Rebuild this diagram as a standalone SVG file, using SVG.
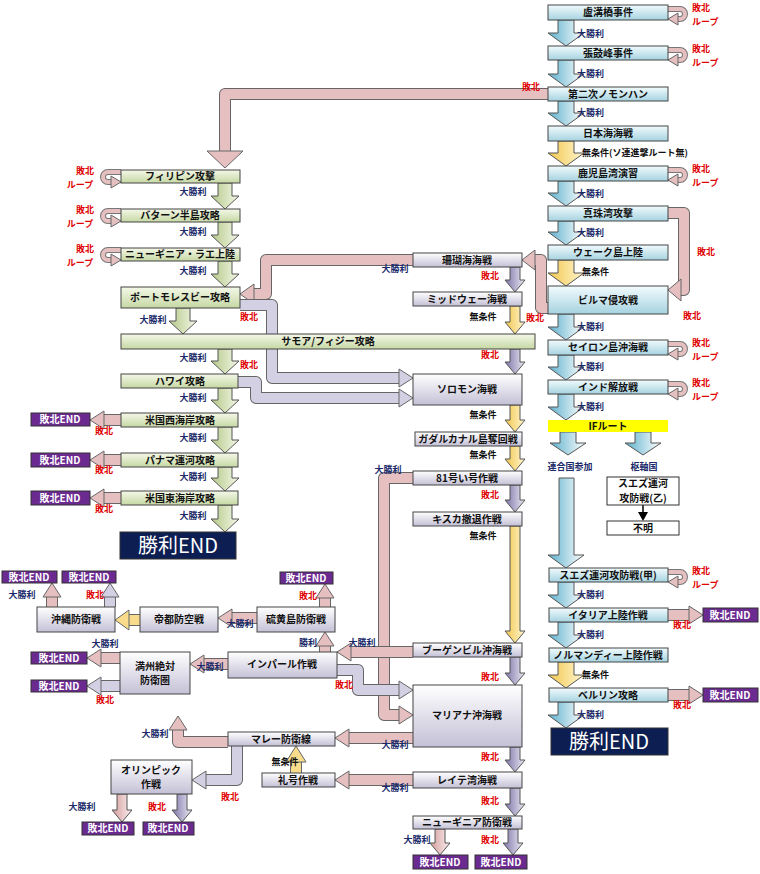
<svg xmlns="http://www.w3.org/2000/svg" width="760" height="874" viewBox="0 0 760 874">
<defs>
<linearGradient id="gBox" x1="0" y1="0" x2="0" y2="1"><stop offset="0" stop-color="#f2fbfd"/><stop offset="1" stop-color="#a6d3e0"/></linearGradient>
<linearGradient id="gGrn" x1="0" y1="0" x2="0" y2="1"><stop offset="0" stop-color="#f4f8e8"/><stop offset="1" stop-color="#c6d8a4"/></linearGradient>
<linearGradient id="gLav" x1="0" y1="0" x2="0" y2="1"><stop offset="0" stop-color="#ffffff"/><stop offset="1" stop-color="#c4c0d6"/></linearGradient>
<linearGradient id="aB" x1="0" y1="0" x2="1" y2="0"><stop offset="0" stop-color="#5cb0cc"/><stop offset="1" stop-color="#ffffff"/></linearGradient>
<linearGradient id="aG" x1="0" y1="0" x2="1" y2="0"><stop offset="0" stop-color="#b4c888"/><stop offset="1" stop-color="#f4f8e8"/></linearGradient>
<linearGradient id="aP" x1="0" y1="0" x2="1" y2="0"><stop offset="0" stop-color="#7c74a8"/><stop offset="1" stop-color="#eceaf4"/></linearGradient>
<linearGradient id="aY" x1="0" y1="0" x2="1" y2="0"><stop offset="0" stop-color="#f2c64c"/><stop offset="1" stop-color="#fff6d0"/></linearGradient>
<linearGradient id="aK" x1="0" y1="0" x2="1" y2="0"><stop offset="0" stop-color="#d49c9c"/><stop offset="1" stop-color="#faeeee"/></linearGradient>
</defs>
<style>
text{font-family:"Noto Sans CJK JP","Noto Sans",sans-serif;font-weight:bold;font-size:10px}
.bx{stroke:#444;stroke-width:1}
.b{fill:url(#gBox)}.g{fill:url(#gGrn)}.l{fill:url(#gLav)}
.c{text-anchor:middle;fill:#111}
.w{fill:#1a2a6a;font-size:9px}.r{fill:#e00000;font-size:9px}.k{fill:#111;font-size:9px}
.ab{fill:url(#aB);stroke:#555;stroke-width:1}
.ag{fill:url(#aG);stroke:#555;stroke-width:1}
.ap{fill:url(#aP);stroke:#555;stroke-width:1}
.ay{fill:url(#aY);stroke:#555;stroke-width:1}
.ak{fill:url(#aK);stroke:#555;stroke-width:1}
.po{fill:none;stroke:#666;stroke-width:12;stroke-linejoin:round}
.pk{fill:none;stroke:#e6c0c0;stroke-width:10;stroke-linejoin:round}
.pl{fill:none;stroke:#d4d0e4;stroke-width:10;stroke-linejoin:round}
.py{fill:none;stroke:#f8dc8c;stroke-width:10}
.hk{fill:#e6c0c0;stroke:#666;stroke-width:1}
.hl{fill:#d4d0e4;stroke:#666;stroke-width:1}
.hy{fill:#f8dc8c;stroke:#666;stroke-width:1}
.lo{fill:none;stroke:#777;stroke-width:6;stroke-linecap:butt}
.li{fill:none;stroke:#e6c0c0;stroke-width:4}
.end{fill:#6a2a90;stroke:#333}
.et{fill:#fff;text-anchor:middle;font-size:10px}
.win{fill:#0c1e52;stroke:#333}
.wt{fill:#fff;text-anchor:middle;font-size:20px;font-weight:normal}
</style>

<g id="connectors">
<path class="po" d="M548,94 H225 V152"/><path class="pk" d="M548,94 H225 V152"/><polygon class="hk" points="225,168 207,151 243,151"/>
<path class="po" d="M668,213 H684 V290 H679"/><path class="pk" d="M668,213 H684 V290 H679"/><polygon class="hk" points="668,290 681,279 681,301"/>
<path class="po" d="M548,308 H541 V260 H534"/><path class="pk" d="M548,308 H541 V260 H534"/><polygon class="hk" points="522,260 535,250 535,270"/>
<path class="po" d="M413,260 H266 V294 H253"/><path class="pk" d="M413,260 H266 V294 H253"/><polygon class="hk" points="240,294 254,284 254,304"/>
<path class="po" d="M240,305 H272 V378 H400"/><path class="pl" d="M240,305 H272 V378 H400"/><polygon class="hl" points="413,378 399,369 399,387"/>
<path class="po" d="M238,382 H256 V398 H400"/><path class="pl" d="M238,382 H256 V398 H400"/><polygon class="hl" points="413,398 399,389 399,407"/>
<path class="po" d="M413,478 H384 V715 H400"/><path class="pk" d="M413,478 H384 V715 H400"/><polygon class="hk" points="413,715 399,706 399,724"/>
<path class="po" d="M413,652 H350"/><path class="pk" d="M413,652 H350"/><polygon class="hk" points="337,652 351,643 351,661"/>
<path class="po" d="M337,670 H358 V690 H400"/><path class="pl" d="M337,670 H358 V690 H400"/><polygon class="hl" points="413,690 399,681 399,699"/>
<path class="po" d="M413,738 H348"/><path class="pk" d="M413,738 H348"/><polygon class="hk" points="335,738 349,729 349,747"/>
<path class="po" d="M413,780 H348"/><path class="pk" d="M413,780 H348"/><polygon class="hk" points="335,780 349,771 349,789"/>
<path class="po" d="M228,742 H178 V729"/><path class="pk" d="M228,742 H178 V729"/><polygon class="hk" points="178,716 169,730 187,730"/>
<path class="po" d="M237,746 V780 H205"/><path class="pl" d="M237,746 V780 H205"/><polygon class="hl" points="192,780 206,771 206,789"/>
<path class="po" d="M296,773 V762"/><path class="py" d="M296,773 V762"/><polygon class="hy" points="296,746 286,762 306,762"/>
<path class="po" d="M257,618 H231"/><path class="pk" d="M257,618 H231"/><polygon class="hk" points="218,618 232,609 232,627"/>
<path class="po" d="M140,620 H128"/><path class="py" d="M140,620 H128"/><polygon class="hy" points="115,620 129,610 129,630"/>
<path class="po" d="M230,664 H203"/><path class="pk" d="M230,664 H203"/><polygon class="hk" points="190,664 204,655 204,673"/>
<path class="po" d="M120,658 H100"/><path class="pk" d="M120,658 H100"/><polygon class="hk" points="87,658 101,649 101,667"/>
<path class="po" d="M120,686 H100"/><path class="pl" d="M120,686 H100"/><polygon class="hl" points="87,686 101,677 101,695"/>
<path class="po" d="M325,652 V645"/><path class="pk" d="M325,652 V645"/><polygon class="hk" points="325,632 316,646 334,646"/>
<path class="po" d="M325,607 V597"/><path class="pk" d="M325,607 V597"/><polygon class="hk" points="325,584 316,598 334,598"/>
<path class="po" d="M52,607 V596"/><path class="pk" d="M52,607 V596"/><polygon class="hk" points="52,583 43,597 61,597"/>
<path class="po" d="M110,607 V596"/><path class="pl" d="M110,607 V596"/><polygon class="hl" points="110,583 101,597 119,597"/>
<path class="po" d="M121,420 H103"/><path class="pk" d="M121,420 H103"/><polygon class="hk" points="90,420 104,411 104,429"/>
<path class="po" d="M121,460 H103"/><path class="pk" d="M121,460 H103"/><polygon class="hk" points="90,460 104,451 104,469"/>
<path class="po" d="M121,498 H103"/><path class="pk" d="M121,498 H103"/><polygon class="hk" points="90,498 104,489 104,507"/>
<path class="po" d="M668,615 H690"/><path class="pk" d="M668,615 H690"/><polygon class="hk" points="703,615 689,606 689,624"/>
<path class="po" d="M668,695 H690"/><path class="pk" d="M668,695 H690"/><polygon class="hk" points="703,695 689,686 689,704"/>
<polygon class="ab" points="558,20 574,20 574,33 584,33 566,46 548,33 558,33"/>
<polygon class="ab" points="558,60 574,60 574,74 584,74 566,87 548,74 558,74"/>
<polygon class="ab" points="558,101 574,101 574,113 584,113 566,126 548,113 558,113"/>
<polygon class="ay" points="558,141 574,141 574,153 584,153 566,166 548,153 558,153"/>
<polygon class="ab" points="558,181 574,181 574,193 584,193 566,206 548,193 558,193"/>
<polygon class="ab" points="558,221 574,221 574,232 584,232 566,245 548,232 558,232"/>
<polygon class="ay" points="558,260 574,260 574,273 584,273 566,286 548,273 558,273"/>
<polygon class="ab" points="558,314 574,314 574,327 584,327 566,340 548,327 558,327"/>
<polygon class="ab" points="558,355 574,355 574,367 584,367 566,380 548,367 558,367"/>
<polygon class="ab" points="558,394 574,394 574,407 584,407 566,420 548,407 558,407"/>
<polygon class="ab" points="560,432 576,432 576,443 586,443 568,455 550,443 560,443"/>
<polygon class="ab" points="635,432 651,432 651,443 661,443 643,455 625,443 635,443"/>
<path class="ab" d="M559,478 H574 V555 H584 L566,568 L548,555 H559 Z"/>
<polygon class="ab" points="558,582 574,582 574,595 584,595 566,608 548,595 558,595"/>
<polygon class="ab" points="558,622 574,622 574,635 584,635 566,648 548,635 558,635"/>
<polygon class="ay" points="558,662 574,662 574,675 584,675 566,688 548,675 558,675"/>
<polygon class="ab" points="558,702 574,702 574,715 584,715 566,728 548,715 558,715"/>
<path d="M643,505 V513" stroke="#000" stroke-width="1.5"/><polygon points="643,521 638,512 648,512" fill="#000"/>
<polygon class="ag" points="218,183 232,183 232,196 239,196 225,209 211,196 218,196"/>
<polygon class="ag" points="218,222 232,222 232,235 239,235 225,248 211,235 218,235"/>
<polygon class="ag" points="218,261 232,261 232,274 239,274 225,287 211,274 218,274"/>
<polygon class="ag" points="176,308 190,308 190,321 197,321 183,334 169,321 176,321"/>
<polygon class="ag" points="218,349 232,349 232,361 239,361 225,374 211,361 218,361"/>
<polygon class="ag" points="218,388 232,388 232,400 239,400 225,413 211,400 218,400"/>
<polygon class="ag" points="218,427 232,427 232,440 239,440 225,453 211,440 218,440"/>
<polygon class="ag" points="218,467 232,467 232,478 239,478 225,491 211,478 218,478"/>
<polygon class="ag" points="218,505 232,505 232,519 239,519 225,532 211,519 218,519"/>
<polygon class="ap" points="510,267 520,267 520,280 525,280 515,292 505,280 510,280"/>
<polygon class="ay" points="510,306 520,306 520,322 525,322 515,334 505,322 510,322"/>
<polygon class="ap" points="510,349 520,349 520,362 525,362 515,374 505,362 510,362"/>
<polygon class="ay" points="510,405 520,405 520,420 525,420 515,432 505,420 510,420"/>
<polygon class="ay" points="510,446 520,446 520,459 525,459 515,471 505,459 510,459"/>
<polygon class="ap" points="510,485 520,485 520,500 525,500 515,512 505,500 510,500"/>
<polygon class="ay" points="510,526 520,526 520,631 525,631 515,643 505,631 510,631"/>
<polygon class="ap" points="510,657 520,657 520,673 525,673 515,685 505,673 510,673"/>
<polygon class="ap" points="510,747 520,747 520,760 525,760 515,772 505,760 510,760"/>
<polygon class="ap" points="510,788 520,788 520,804 525,804 515,816 505,804 510,804"/>
<polygon class="ak" points="435,829 445,829 445,843 450,843 440,855 430,843 435,843"/>
<polygon class="ap" points="508,829 518,829 518,843 523,843 513,855 503,843 508,843"/>
<polygon class="ak" points="117,794 127,794 127,810 132,810 122,822 112,810 117,810"/>
<polygon class="ap" points="177,794 187,794 187,810 192,810 182,822 172,810 177,810"/>
<g>
<path class="lo" d="M668,9 H680 a5,5 0 0 1 0,10 H677"/><path class="li" d="M668,9 H680 a5,5 0 0 1 0,10 H677"/><polygon class="hk" points="668,19 678,13 678,25"/>
<path class="lo" d="M668,50 H680 a5,5 0 0 1 0,10 H677"/><path class="li" d="M668,50 H680 a5,5 0 0 1 0,10 H677"/><polygon class="hk" points="668,60 678,54 678,66"/>
<path class="lo" d="M668,170 H680 a5,5 0 0 1 0,10 H677"/><path class="li" d="M668,170 H680 a5,5 0 0 1 0,10 H677"/><polygon class="hk" points="668,180 678,174 678,186"/>
<path class="lo" d="M668,344 H680 a5,5 0 0 1 0,10 H677"/><path class="li" d="M668,344 H680 a5,5 0 0 1 0,10 H677"/><polygon class="hk" points="668,354 678,348 678,360"/>
<path class="lo" d="M668,384 H680 a5,5 0 0 1 0,10 H677"/><path class="li" d="M668,384 H680 a5,5 0 0 1 0,10 H677"/><polygon class="hk" points="668,394 678,388 678,400"/>
<path class="lo" d="M668,572 H680 a5,5 0 0 1 0,10 H677"/><path class="li" d="M668,572 H680 a5,5 0 0 1 0,10 H677"/><polygon class="hk" points="668,582 678,576 678,588"/>
<path class="lo" d="M121,172 H108 a5,5 0 0 0 0,10 H112"/><path class="li" d="M121,172 H108 a5,5 0 0 0 0,10 H112"/><polygon class="hk" points="121,182 111,176 111,188"/>
<path class="lo" d="M121,211 H108 a5,5 0 0 0 0,10 H112"/><path class="li" d="M121,211 H108 a5,5 0 0 0 0,10 H112"/><polygon class="hk" points="121,221 111,215 111,227"/>
<path class="lo" d="M121,250 H108 a5,5 0 0 0 0,10 H112"/><path class="li" d="M121,250 H108 a5,5 0 0 0 0,10 H112"/><polygon class="hk" points="121,260 111,254 111,266"/>
</g>
</g>

<g id="labels">
<text class="w" x="577" y="37">大勝利</text><text class="w" x="577" y="77">大勝利</text><text class="w" x="577" y="116">大勝利</text>
<text class="k" x="582" y="156">無条件(ソ連進撃ルート無)</text>
<text class="w" x="577" y="197">大勝利</text><text class="w" x="577" y="236">大勝利</text>
<text class="k" x="582" y="275">無条件</text>
<text class="w" x="577" y="330">大勝利</text><text class="w" x="577" y="370">大勝利</text><text class="w" x="577" y="410">大勝利</text>
<text class="w" x="577" y="598">大勝利</text><text class="w" x="577" y="638">大勝利</text>
<text class="k" x="582" y="678">無条件</text><text class="w" x="577" y="718">大勝利</text>
<text class="w" x="570" y="470" text-anchor="middle">連合国参加</text><text class="w" x="644" y="470" text-anchor="middle">枢軸国</text>
<text class="r" x="692" y="11">敗北</text><text class="r" x="692" y="25">ループ</text>
<text class="r" x="692" y="52">敗北</text><text class="r" x="692" y="66">ループ</text>
<text class="r" x="692" y="172">敗北</text><text class="r" x="692" y="186">ループ</text>
<text class="r" x="692" y="346">敗北</text><text class="r" x="692" y="360">ループ</text>
<text class="r" x="692" y="386">敗北</text><text class="r" x="692" y="400">ループ</text>
<text class="r" x="692" y="574">敗北</text><text class="r" x="692" y="588">ループ</text>
<text class="r" x="522" y="90">敗北</text><text class="r" x="697" y="255">敗北</text>
<text class="r" x="526" y="321">敗北</text><text class="r" x="683" y="319">敗北</text>
<text class="r" x="673" y="628">敗北</text><text class="r" x="673" y="708">敗北</text>
<text class="r" x="85" y="174" text-anchor="middle">敗北</text><text class="r" x="80" y="188" text-anchor="middle">ループ</text>
<text class="r" x="85" y="213" text-anchor="middle">敗北</text><text class="r" x="80" y="227" text-anchor="middle">ループ</text>
<text class="r" x="85" y="252" text-anchor="middle">敗北</text><text class="r" x="80" y="266" text-anchor="middle">ループ</text>
<text class="w" x="193" y="195" text-anchor="middle">大勝利</text><text class="w" x="193" y="235" text-anchor="middle">大勝利</text><text class="w" x="193" y="274" text-anchor="middle">大勝利</text>
<text class="w" x="153" y="323" text-anchor="middle">大勝利</text><text class="w" x="193" y="361" text-anchor="middle">大勝利</text>
<text class="w" x="193" y="401" text-anchor="middle">大勝利</text><text class="w" x="193" y="441" text-anchor="middle">大勝利</text>
<text class="w" x="193" y="480" text-anchor="middle">大勝利</text><text class="w" x="193" y="519" text-anchor="middle">大勝利</text>
<text class="r" x="104" y="434" text-anchor="middle">敗北</text><text class="r" x="104" y="473" text-anchor="middle">敗北</text><text class="r" x="104" y="512" text-anchor="middle">敗北</text>
<text class="r" x="240" y="320">敗北</text><text class="r" x="240" y="368">敗北</text>
<text class="w" x="395" y="272" text-anchor="middle">大勝利</text>
<text class="r" x="490" y="279" text-anchor="middle">敗北</text><text class="k" x="483" y="320" text-anchor="middle">無条件</text>
<text class="r" x="490" y="358" text-anchor="middle">敗北</text><text class="k" x="483" y="418" text-anchor="middle">無条件</text>
<text class="k" x="483" y="458" text-anchor="middle">無条件</text><text class="r" x="490" y="498" text-anchor="middle">敗北</text>
<text class="k" x="483" y="539" text-anchor="middle">無条件</text><text class="w" x="388" y="473" text-anchor="middle">大勝利</text>
<text class="r" x="490" y="680" text-anchor="middle">敗北</text><text class="r" x="490" y="760" text-anchor="middle">敗北</text>
<text class="r" x="490" y="804" text-anchor="middle">敗北</text>
<text class="w" x="417" y="843" text-anchor="middle">大勝利</text><text class="r" x="490" y="843" text-anchor="middle">敗北</text>
<text class="w" x="362" y="646" text-anchor="middle">大勝利</text><text class="w" x="308" y="646" text-anchor="middle">勝利</text>
<text class="r" x="344" y="688" text-anchor="middle">敗北</text>
<text class="r" x="308" y="599" text-anchor="middle">敗北</text><text class="w" x="240" y="627" text-anchor="middle">大勝利</text>
<text class="w" x="22" y="598" text-anchor="middle">大勝利</text><text class="r" x="95" y="598" text-anchor="middle">敗北</text>
<text class="w" x="210" y="670" text-anchor="middle">大勝利</text>
<text class="w" x="105" y="647" text-anchor="middle">大勝利</text><text class="r" x="105" y="703" text-anchor="middle">敗北</text>
<text class="w" x="395" y="748" text-anchor="middle">大勝利</text><text class="w" x="395" y="791" text-anchor="middle">大勝利</text>
<text class="w" x="155" y="737" text-anchor="middle">大勝利</text><text class="r" x="230" y="800" text-anchor="middle">敗北</text>
<text class="k" x="285" y="765" text-anchor="middle">無条件</text>
<text class="w" x="82" y="810" text-anchor="middle">大勝利</text><text class="r" x="157" y="810" text-anchor="middle">敗北</text>
</g>

<g id="n_rokoukyo"><rect class="bx b" x="548" y="5" width="120" height="15"/><text class="c" x="608" y="16">盧溝橋事件</text></g>
<g id="n_choukohou"><rect class="bx b" x="548" y="46" width="120" height="14"/><text class="c" x="608" y="57">張鼓峰事件</text></g>
<g id="n_nomonhan"><rect class="bx b" x="548" y="87" width="120" height="14"/><text class="c" x="608" y="98">第二次ノモンハン</text></g>
<g id="n_nihonkai"><rect class="bx b" x="548" y="126" width="120" height="15"/><text class="c" x="608" y="137">日本海海戦</text></g>
<g id="n_kagoshima"><rect class="bx b" x="548" y="166" width="120" height="15"/><text class="c" x="608" y="177">鹿児島湾演習</text></g>
<g id="n_shinjuwan"><rect class="bx b" x="548" y="206" width="120" height="15"/><text class="c" x="608" y="217">真珠湾攻撃</text></g>
<g id="n_wake"><rect class="bx b" x="548" y="245" width="120" height="15"/><text class="c" x="608" y="256">ウェーク島上陸</text></g>
<g id="n_burma"><rect class="bx b" x="548" y="286" width="120" height="28"/><text class="c" x="608" y="304">ビルマ侵攻戦</text></g>
<g id="n_ceylon"><rect class="bx b" x="548" y="340" width="120" height="15"/><text class="c" x="608" y="351">セイロン島沖海戦</text></g>
<g id="n_india"><rect class="bx b" x="548" y="380" width="120" height="14"/><text class="c" x="608" y="391">インド解放戦</text></g>
<g id="n_if"><rect x="548" y="420" width="120" height="12" fill="#ffff00"/><text class="c" x="608" y="430">IFルート</text></g>
<g id="n_suez_b"><rect x="607" y="477" width="72" height="28" fill="#fff" stroke="#333"/><text class="c" x="643" y="487" font-size="8.5">スエズ運河</text><text class="c" x="643" y="502" font-size="8.5">攻防戦(乙)</text></g>
<g id="n_fumei"><rect x="607" y="521" width="72" height="14" fill="#fff" stroke="#333"/><text class="c" x="643" y="532">不明</text></g>
<g id="n_suez_a"><rect class="bx b" x="549" y="568" width="119" height="14"/><text class="c" x="608" y="579">スエズ運河攻防戦(甲)</text></g>
<g id="n_italy"><rect class="bx b" x="549" y="608" width="119" height="14"/><text class="c" x="608" y="619">イタリア上陸作戦</text></g>
<g id="n_italy_end"><rect class="end" x="703" y="608" width="55" height="14"/><text class="et" x="730" y="619">敗北END</text></g>
<g id="n_normandy"><rect class="bx b" x="549" y="648" width="119" height="14"/><text class="c" x="608" y="659">ノルマンディー上陸作戦</text></g>
<g id="n_berlin"><rect class="bx b" x="549" y="688" width="119" height="14"/><text class="c" x="608" y="699">ベルリン攻略</text></g>
<g id="n_berlin_end"><rect class="end" x="703" y="688" width="55" height="14"/><text class="et" x="730" y="699">敗北END</text></g>
<g id="n_win_r"><rect class="win" x="551" y="728" width="117" height="27"/><text class="wt" x="609" y="749">勝利END</text></g>

<g id="n_philippines"><rect class="bx g" x="121" y="170" width="119" height="13"/><text class="c" x="180" y="180">フィリピン攻撃</text></g>
<g id="n_bataan"><rect class="bx g" x="121" y="209" width="119" height="13"/><text class="c" x="180" y="219">バターン半島攻略</text></g>
<g id="n_lae"><rect class="bx g" x="121" y="248" width="119" height="13"/><text class="c" x="180" y="258">ニューギニア・ラエ上陸</text></g>
<g id="n_moresby"><rect class="bx g" x="121" y="287" width="119" height="21"/><text class="c" x="180" y="301">ポートモレスビー攻略</text></g>
<g id="n_samoa"><rect class="bx g" x="121" y="334" width="414" height="15"/><text class="c" x="328" y="345">サモア/フィジー攻略</text></g>
<g id="n_hawaii"><rect class="bx g" x="121" y="374" width="117" height="14"/><text class="c" x="180" y="385">ハワイ攻略</text></g>
<g id="n_uswest"><rect class="bx g" x="121" y="413" width="117" height="14"/><text class="c" x="180" y="424">米国西海岸攻略</text></g>
<g id="n_uswest_end"><rect class="end" x="31" y="413" width="59" height="13"/><text class="et" x="60" y="423">敗北END</text></g>
<g id="n_panama"><rect class="bx g" x="121" y="453" width="117" height="14"/><text class="c" x="180" y="464">パナマ運河攻略</text></g>
<g id="n_panama_end"><rect class="end" x="31" y="453" width="59" height="14"/><text class="et" x="60" y="464">敗北END</text></g>
<g id="n_useast"><rect class="bx g" x="121" y="491" width="117" height="14"/><text class="c" x="180" y="502">米国東海岸攻略</text></g>
<g id="n_useast_end"><rect class="end" x="31" y="491" width="59" height="14"/><text class="et" x="60" y="502">敗北END</text></g>
<g id="n_win_l"><rect class="win" x="120" y="532" width="116" height="27"/><text class="wt" x="178" y="553">勝利END</text></g>

<g id="n_sango"><rect class="bx l" x="413" y="253" width="109" height="14"/><text class="c" x="467" y="264">珊瑚海海戦</text></g>
<g id="n_midway"><rect class="bx l" x="413" y="292" width="109" height="14"/><text class="c" x="467" y="303">ミッドウェー海戦</text></g>
<g id="n_solomon"><rect class="bx l" x="413" y="374" width="109" height="31"/><text class="c" x="467" y="393">ソロモン海戦</text></g>
<g id="n_guadal"><rect class="bx l" x="415" y="432" width="107" height="14"/><text class="c" x="468" y="443" font-size="9">ガダルカナル島奪回戦</text></g>
<g id="n_81"><rect class="bx l" x="413" y="471" width="109" height="14"/><text class="c" x="467" y="482">81号い号作戦</text></g>
<g id="n_kiska"><rect class="bx l" x="413" y="512" width="109" height="14"/><text class="c" x="467" y="523">キスカ撤退作戦</text></g>
<g id="n_bougain"><rect class="bx l" x="413" y="643" width="109" height="14"/><text class="c" x="467" y="654">ブーゲンビル沖海戦</text></g>
<g id="n_mariana"><rect class="bx l" x="413" y="685" width="109" height="62"/><text class="c" x="467" y="719">マリアナ沖海戦</text></g>
<g id="n_leyte"><rect class="bx l" x="413" y="772" width="109" height="16"/><text class="c" x="467" y="784">レイテ湾海戦</text></g>
<g id="n_ngdef"><rect class="bx l" x="413" y="816" width="109" height="13"/><text class="c" x="467" y="826">ニューギニア防衛戦</text></g>
<g id="n_ngdef_end1"><rect class="end" x="413" y="855" width="55" height="14"/><text class="et" x="440" y="866">敗北END</text></g>
<g id="n_ngdef_end2"><rect class="end" x="475" y="855" width="52" height="14"/><text class="et" x="501" y="866">敗北END</text></g>

<g id="n_iwojima"><rect class="bx l" x="257" y="607" width="78" height="25"/><text class="c" x="296" y="623">硫黄島防衛戦</text></g>
<g id="n_iwojima_end"><rect class="end" x="280" y="572" width="53" height="12"/><text class="et" x="306" y="582">敗北END</text></g>
<g id="n_teito"><rect class="bx l" x="140" y="607" width="78" height="25"/><text class="c" x="179" y="623">帝都防空戦</text></g>
<g id="n_okinawa"><rect class="bx l" x="37" y="607" width="78" height="25"/><text class="c" x="76" y="623">沖縄防衛戦</text></g>
<g id="n_oki_end1"><rect class="end" x="2" y="571" width="55" height="12"/><text class="et" x="29" y="581">敗北END</text></g>
<g id="n_oki_end2"><rect class="end" x="62" y="571" width="54" height="12"/><text class="et" x="89" y="581">敗北END</text></g>
<g id="n_imphal"><rect class="bx l" x="228" y="652" width="109" height="26"/><text class="c" x="282" y="668">インパール作戦</text></g>
<g id="n_manshu"><rect class="bx l" x="120" y="652" width="70" height="42"/><text class="c" x="155" y="670">満州絶対</text><text class="c" x="155" y="684">防衛圏</text></g>
<g id="n_man_end1"><rect class="end" x="31" y="652" width="56" height="12"/><text class="et" x="59" y="662">敗北END</text></g>
<g id="n_man_end2"><rect class="end" x="31" y="680" width="56" height="12"/><text class="et" x="59" y="690">敗北END</text></g>
<g id="n_malay"><rect class="bx l" x="228" y="732" width="107" height="14"/><text class="c" x="281" y="743">マレー防衛線</text></g>
<g id="n_reigou"><rect class="bx l" x="262" y="773" width="73" height="14"/><text class="c" x="298" y="784">礼号作戦</text></g>
<g id="n_olympic"><rect class="bx l" x="111" y="760" width="81" height="34"/><text class="c" x="151" y="774">オリンピック</text><text class="c" x="151" y="788">作戦</text></g>
<g id="n_oly_end1"><rect class="end" x="82" y="822" width="52" height="13"/><text class="et" x="108" y="832">敗北END</text></g>
<g id="n_oly_end2"><rect class="end" x="143" y="822" width="51" height="13"/><text class="et" x="168" y="832">敗北END</text></g>
</svg>
